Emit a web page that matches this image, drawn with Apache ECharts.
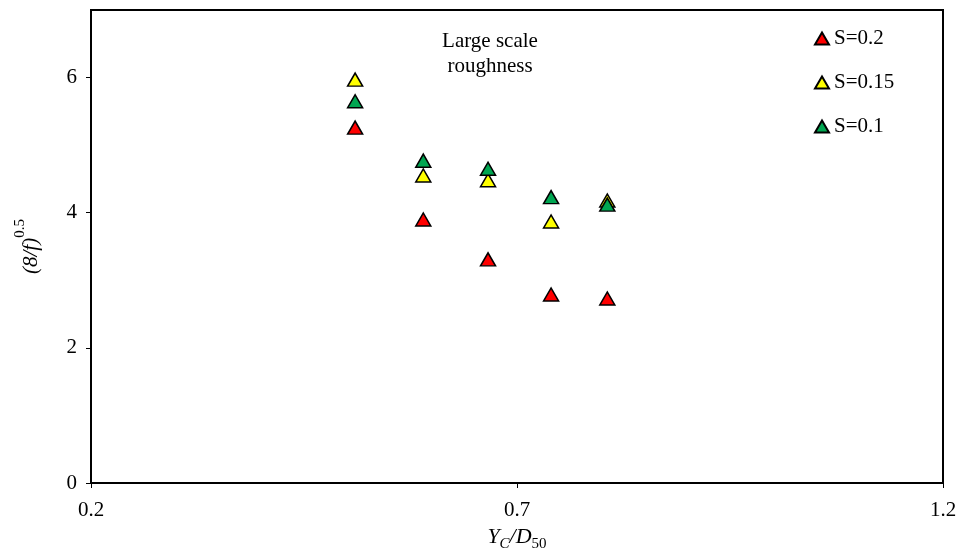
<!DOCTYPE html>
<html>
<head>
<meta charset="utf-8">
<script src="https://cdn.jsdelivr.net/npm/echarts@6/dist/echarts.min.js"></script>
<style>
  html, body { margin: 0; padding: 0; background: #fff; }
  #chart { width: 961px; height: 553px; }
</style>
</head>
<body>
<div id="chart"></div>
<script>
// valeurs
const ycD50 = [0.51, 0.59, 0.666, 0.74, 0.806];
const s02 = [5.26, 3.90, 3.31, 2.79, 2.73];
const s015 = [5.97, 4.55, 4.48, 3.87, 4.18];
const s01 = [5.65, 4.77, 4.65, 4.23, 4.12];
const seriesNames = ['S=0.2', 'S=0.15', 'S=0.1'];
const seriesColors = ['#ff0000', '#ffff00', '#00a651'];
const seriesValues = [s02, s015, s01];

const serif = '"Liberation Serif", "DejaVu Serif", serif';

const chart = echarts.init(document.getElementById('chart'));

const option = {
    backgroundColor: '#fff',
    textStyle: { fontFamily: serif },
    grid: {
        left: 91, right: 18, top: 10, bottom: 70,
        containLabel: false,
        outerBoundsMode: 'none',
        show: true,
        borderColor: '#000',
        borderWidth: 2
    },
    legend: {
        orient: 'vertical',
        left: 809,
        top: 23,
        itemGap: 23,
        itemWidth: 14,
        itemHeight: 12,
        icon: 'triangle',
        textStyle: { fontFamily: serif, fontSize: 21, color: '#000' },
        data: seriesNames
    },
    xAxis: {
        type: 'value',
        min: 0.2, max: 1.2, interval: 0.5,
        splitLine: { show: false },
        axisLine: { lineStyle: { color: '#000', width: 2 } },
        axisTick: { lineStyle: { color: '#000' }, length: 5 },
        axisLabel: { color: '#000', fontSize: 21, fontFamily: serif, margin: 17 },
        name: '{i|Y}{si|C}{i|/D}{s|50}',
        nameLocation: 'middle',
        nameGap: 40,
        nameTextStyle: {
            rich: {
                i: { fontStyle: 'italic', fontSize: 22, fontFamily: serif, color: '#000', verticalAlign: 'bottom' },
                si: { fontStyle: 'italic', fontSize: 15, fontFamily: serif, color: '#000', verticalAlign: 'bottom', padding: [0, 0, -4, 0] },
                s: { fontSize: 15, fontFamily: serif, color: '#000', verticalAlign: 'bottom', padding: [0, 0, -4, 0] }
            }
        }
    },
    yAxis: {
        type: 'value',
        min: 0, max: 7, interval: 2,
        splitLine: { show: false },
        axisLine: { lineStyle: { color: '#000', width: 2 } },
        axisTick: { lineStyle: { color: '#000' }, length: 5 },
        axisLabel: { color: '#000', fontSize: 21, fontFamily: serif, margin: 14, showMaxLabel: false },
        name: '{i|(8/f)}{s|0.5}',
        nameLocation: 'middle',
        nameRotate: 90,
        nameGap: 49,
        nameTextStyle: {
            rich: {
                i: { fontStyle: 'italic', fontSize: 21, fontFamily: serif, color: '#000', verticalAlign: 'bottom' },
                s: { fontSize: 15, fontFamily: serif, color: '#000', verticalAlign: 'top', padding: [-8, 0, 0, 0] }
            }
        }
    },
    graphic: [{
        type: 'text',
        x: 490,
        y: 29,
        style: {
            text: 'Large scale\nroughness',
            font: '21px ' + serif,
            fill: '#000',
            textAlign: 'center',
            lineHeight: 25
        }
    }],
    series: seriesNames.map((name, k) => ({
        name: name,
        type: 'scatter',
        symbol: 'triangle',
        symbolSize: [15, 13],
        itemStyle: { color: seriesColors[k], borderColor: '#000', borderWidth: 1.5, opacity: 1 },
        data: ycD50.map((x, i) => [x, seriesValues[k][i]])
    }))
};

chart.setOption(option);
</script>
</body>
</html>
